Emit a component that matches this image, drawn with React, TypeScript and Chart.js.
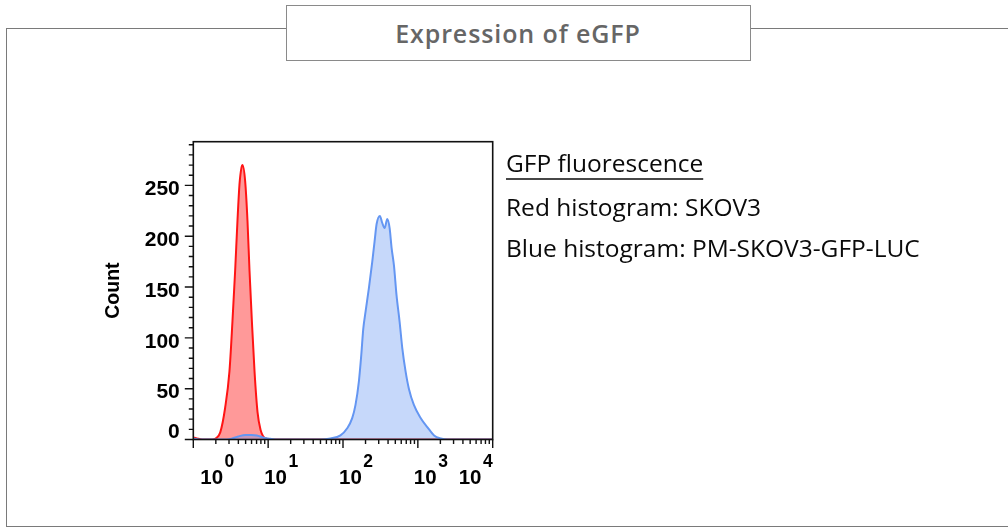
import React, { useEffect, useRef } from 'react';
import { Chart, registerables } from 'chart.js';

Chart.register(...registerables);

// ---- data (x as log10 of fluorescence intensity) ----
const redLog10Intensity = [0.0, 0.05, 0.12, 0.25, 0.3, 0.36, 0.425, 0.483, 0.523, 0.559, 0.59, 0.617, 0.645, 0.657, 0.693, 0.724, 0.751, 0.783, 0.818, 0.858, 0.9, 0.935, 0.97, 1.03, 4.0];
const redCounts = [2, 1, 0, 0, 1, 7, 31, 67, 116, 166, 215, 251, 268, 270, 254, 215, 166, 116, 67, 27, 9, 3, 1, 0, 0];

const blueLog10Intensity = [0.0, 0.1, 0.45, 0.52, 0.6, 0.7, 0.78, 0.85, 0.93, 1.0, 1.1, 1.7, 1.832, 1.966, 2.056, 2.123, 2.167, 2.212, 2.244, 2.271, 2.302, 2.346, 2.391, 2.422, 2.449, 2.493, 2.525, 2.556, 2.592, 2.623, 2.65, 2.681, 2.715, 2.756, 2.792, 2.836, 2.88, 2.947, 3.039, 3.129, 3.217, 3.307, 3.397, 4.0];
const blueCounts = [1, 0, 0, 1, 3, 4.5, 4.5, 4, 2, 1, 0, 0, 1, 4, 11, 21, 34, 57, 83, 109, 126, 149, 175, 195, 212, 220, 213, 208, 217, 208, 188, 171, 142, 116, 90, 67, 50, 34, 21, 12, 4, 1, 0, 0];

const xDecadeExponents = [0, 1, 2, 3, 4];
const xMinorMultipliers = [2, 3, 4, 5, 6, 7, 8, 9];
const yMajorTicks = [0, 50, 100, 150, 200, 250];
const yMinorTicks = [10, 20, 30, 40, 60, 70, 80, 90, 110, 120, 130, 140, 160, 170, 180, 190, 210, 220, 230, 240, 260, 270, 280, 290];
const yAxisMax = 293;

const chartTitle = 'Expression of eGFP';
const yAxisTitle = 'Count';
const legendHeading = 'GFP fluorescence';
const legendLines = ['Red histogram: SKOV3', 'Blue histogram: PM-SKOV3-GFP-LUC'];

const toPoints = (logs: number[], counts: number[]) =>
  logs.map((e, i) => ({ x: Math.pow(10, e), y: counts[i] }));

const AXIS_FONT = '"Liberation Sans", Arial, sans-serif';

const flowAxesPlugin = {
  id: 'flowAxes',
  afterDatasetsDraw(chart: any) {
    const { ctx, chartArea: a, scales } = chart;
    const xs = scales.x;
    const ys = scales.y;
    ctx.save();
    ctx.strokeStyle = '#111';
    ctx.fillStyle = '#000';

    // plot frame
    ctx.lineWidth = 1.6;
    ctx.strokeRect(a.left, a.top, a.right - a.left, a.bottom - a.top);

    // y ticks
    ctx.lineWidth = 1.4;
    ctx.beginPath();
    yMajorTicks.forEach((v) => {
      const py = ys.getPixelForValue(v);
      ctx.moveTo(a.left - 8.5, py);
      ctx.lineTo(a.left, py);
    });
    yMinorTicks.forEach((v) => {
      const py = ys.getPixelForValue(v);
      ctx.moveTo(a.left - 4.5, py);
      ctx.lineTo(a.left, py);
    });
    // x ticks
    xDecadeExponents.forEach((e) => {
      const px = xs.getPixelForValue(Math.pow(10, e));
      ctx.moveTo(px, a.bottom);
      ctx.lineTo(px, a.bottom + 8.5);
      if (e < xDecadeExponents[xDecadeExponents.length - 1]) {
        xMinorMultipliers.forEach((m) => {
          const mx = xs.getPixelForValue(m * Math.pow(10, e));
          ctx.moveTo(mx, a.bottom);
          ctx.lineTo(mx, a.bottom + 4.5);
        });
      }
    });
    ctx.stroke();

    // y labels
    ctx.font = `bold 21px ${AXIS_FONT}`;
    ctx.textAlign = 'right';
    ctx.textBaseline = 'middle';
    yMajorTicks.forEach((v) => {
      const py = Math.min(ys.getPixelForValue(v) + 4, a.bottom - 7);
      ctx.fillText(String(v), a.left - 13.5, py);
    });

    // x labels: 10 with superscript exponent
    ctx.textAlign = 'left';
    ctx.textBaseline = 'alphabetic';
    xDecadeExponents.forEach((e) => {
      const px = xs.getPixelForValue(Math.pow(10, e));
      ctx.font = `bold 20.5px ${AXIS_FONT}`;
      const tenW = ctx.measureText('10').width;
      ctx.font = `bold 17.5px ${AXIS_FONT}`;
      const supW = ctx.measureText(String(e)).width;
      const total = tenW + 1.5 + supW;
      let left = px - 4;
      left = Math.max(left, a.left + 7);
      left = Math.min(left, a.right - total);
      ctx.font = `bold 20.5px ${AXIS_FONT}`;
      ctx.fillText('10', left, a.bottom + 44);
      ctx.font = `bold 17.5px ${AXIS_FONT}`;
      ctx.fillText(String(e), left + tenW + 1.5, a.bottom + 27.3);
    });

    // y axis title
    ctx.save();
    ctx.translate(114, (a.top + a.bottom) / 2);
    ctx.rotate(-Math.PI / 2);
    ctx.font = `bold 19.5px ${AXIS_FONT}`;
    ctx.textAlign = 'center';
    ctx.textBaseline = 'middle';
    ctx.fillText(yAxisTitle, 0, 0);
    ctx.restore();

    // legend text
    ctx.font = '24.5px "Open Sans", sans-serif';
    ctx.fillStyle = '#0a0a0a';
    ctx.textAlign = 'left';
    ctx.textBaseline = 'alphabetic';
    const lx = 506;
    ctx.fillText(legendHeading, lx, 172);
    const hw = ctx.measureText(legendHeading).width;
    ctx.strokeStyle = '#0a0a0a';
    ctx.lineWidth = 1.5;
    ctx.beginPath();
    ctx.moveTo(lx, 179);
    ctx.lineTo(lx + hw, 179);
    ctx.stroke();
    ctx.fillText(legendLines[0], lx, 216);
    ctx.fillText(legendLines[1], lx, 257);

    ctx.restore();
  },
};

export default function App() {
  const canvasRef = useRef<HTMLCanvasElement>(null);

  useEffect(() => {
    const canvas = canvasRef.current;
    if (!canvas) return;
    const chart = new Chart(canvas, {
      type: 'line',
      data: {
        datasets: [
          {
            label: 'PM-SKOV3-GFP-LUC',
            data: toPoints(blueLog10Intensity, blueCounts),
            borderColor: 'rgb(100,150,242)',
            backgroundColor: 'rgba(100,150,242,0.37)',
            borderWidth: 2,
            fill: 'origin',
            pointRadius: 0,
            cubicInterpolationMode: 'monotone',
            order: 0,
          },
          {
            label: 'SKOV3',
            data: toPoints(redLog10Intensity, redCounts),
            borderColor: 'rgb(255,20,20)',
            backgroundColor: 'rgba(255,0,0,0.4)',
            borderWidth: 2,
            fill: 'origin',
            pointRadius: 0,
            cubicInterpolationMode: 'monotone',
            order: 1,
          },
        ],
      },
      options: {
        animation: false,
        responsive: false,
        devicePixelRatio: 1,
        layout: {
          padding: { left: 193.3, top: 141.7, right: 1008 - 492.7, bottom: 527 - 439.5 },
        },
        plugins: {
          legend: { display: false },
          tooltip: { enabled: false },
          title: { display: false },
        },
        scales: {
          x: { type: 'logarithmic', min: 1, max: 10000, display: false },
          y: { type: 'linear', min: 0, max: yAxisMax, display: false },
        },
      },
      plugins: [flowAxesPlugin],
    } as any);
    return () => chart.destroy();
  }, []);

  return (
    <div style={{ position: 'fixed', left: 0, top: 0, width: 1008, height: 527, overflow: 'hidden', background: '#fff' }}>
      <div
        style={{
          position: 'absolute',
          left: 6,
          top: 27.5,
          width: 1030,
          height: 499,
          boxSizing: 'border-box',
          borderLeft: '1.5px solid #7a7a7a',
          borderTop: '1.5px solid #7a7a7a',
          borderBottom: '1.5px solid #7a7a7a',
        }}
      />
      <div
        style={{
          position: 'absolute',
          left: 285.5,
          top: 4.5,
          width: 465,
          height: 56,
          boxSizing: 'border-box',
          border: '1.5px solid #8a8a8a',
          background: '#fff',
          display: 'flex',
          alignItems: 'center',
          justifyContent: 'center',
          fontFamily: '"Open Sans", sans-serif',
          fontWeight: 600,
          fontSize: 25,
          letterSpacing: 0.9,
          color: '#666666',
        }}
      >
        {chartTitle}
      </div>
      <canvas
        ref={canvasRef}
        width={1008}
        height={527}
        style={{ position: 'absolute', left: 0, top: 0, width: 1008, height: 527 }}
      />
    </div>
  );
}
